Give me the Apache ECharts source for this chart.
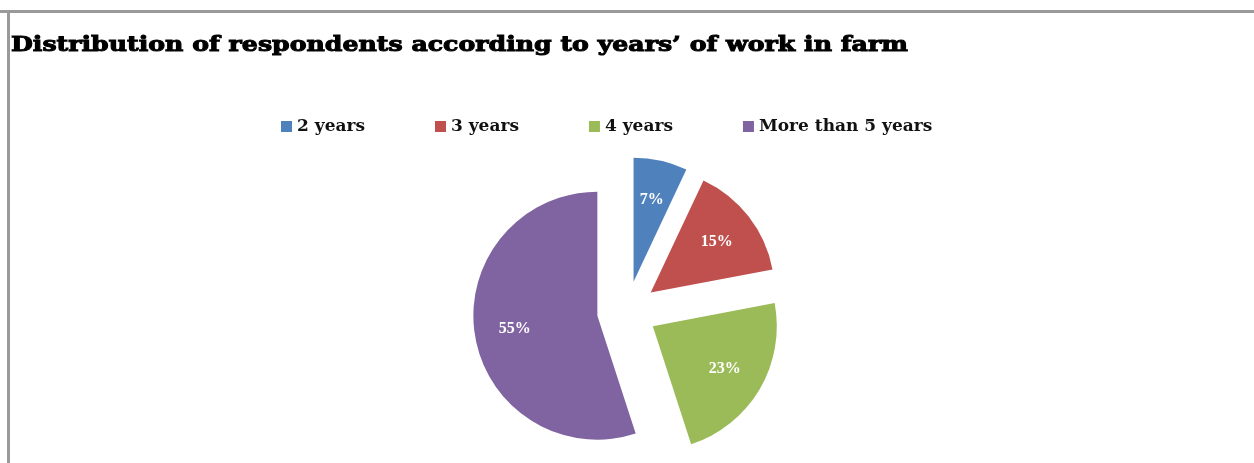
<!DOCTYPE html>
<html>
<head>
<meta charset="utf-8">
<script src="https://cdn.jsdelivr.net/npm/echarts@6/dist/echarts.min.js"></script>
<style>
html,body{margin:0;padding:0;background:#fff;}
#c{width:1254px;height:463px;}
</style>
</head>
<body>
<div id="c"></div>
<script>
const titleText = "Distribution of respondents according to years\u2019 of work in farm";
const categories = ["2 years", "3 years", "4 years", "More than 5 years"];
const percentages = [7, 15, 23, 55];
const colors = ["#4F81BD", "#C0504D", "#9BBB59", "#8064A2"];

const chart = echarts.init(document.getElementById('c'), null, {renderer: 'canvas'});
const R = 124;
const center = [627, 311];
const offset = 30;

const sliceData = categories.map((name, i) => ({
  name: name,
  value: percentages[i],
  selected: true,
  itemStyle: {color: colors[i]}
}));
const labelData = categories.map((name, i) => ({
  name: name,
  value: percentages[i],
  selected: true,
  itemStyle: {color: 'rgba(0,0,0,0)'}
}));

chart.setOption({
  backgroundColor: '#fff',
  animation: false,
  legend: {
    data: categories,
    left: 276,
    top: 113,
    itemWidth: 11,
    itemHeight: 11,
    itemGap: 70,
    icon: 'rect',
    selectedMode: false,
    textStyle: {fontFamily: 'DejaVu Serif', fontWeight: 'bold', fontSize: 17, color: '#111', padding: [0,0,0,0]}
  },
  graphic: [
    {type: 'rect', shape: {x: 0, y: 10, width: 1254, height: 3}, style: {fill: '#9a9a9a'}, silent: true},
    {type: 'rect', shape: {x: 7, y: 10, width: 3, height: 453}, style: {fill: '#9a9a9a'}, silent: true},
    {
      type: 'text',
      x: 11, y: 46,
      scaleX: 1.2,
      silent: true,
      style: {
        text: titleText,
        fontFamily: 'DejaVu Serif',
        fontWeight: 'bold',
        fontSize: 21,
        fill: '#000',
        stroke: '#000',
        lineWidth: 1,
        verticalAlign: 'middle',
        align: 'left'
      }
    }
  ],
  series: [
    {
      type: 'pie',
      center: center,
      radius: [0, R],
      startAngle: 90,
      clockwise: true,
      selectedMode: 'multiple',
      selectedOffset: offset,
      label: {show: false},
      labelLine: {show: false},
      emphasis: {disabled: true},
      data: sliceData
    },
    {
      type: 'pie',
      center: center,
      radius: [R * 0.3, R],
      startAngle: 90,
      clockwise: true,
      selectedMode: 'multiple',
      selectedOffset: offset,
      silent: true,
      label: {
        show: true,
        position: 'inside',
        formatter: '{c}%',
        color: '#fff',
        fontFamily: 'Liberation Serif',
        fontWeight: 'bold',
        fontSize: 16
      },
      labelLine: {show: false},
      emphasis: {disabled: true},
      data: labelData
    }
  ]
});
</script>
</body>
</html>
